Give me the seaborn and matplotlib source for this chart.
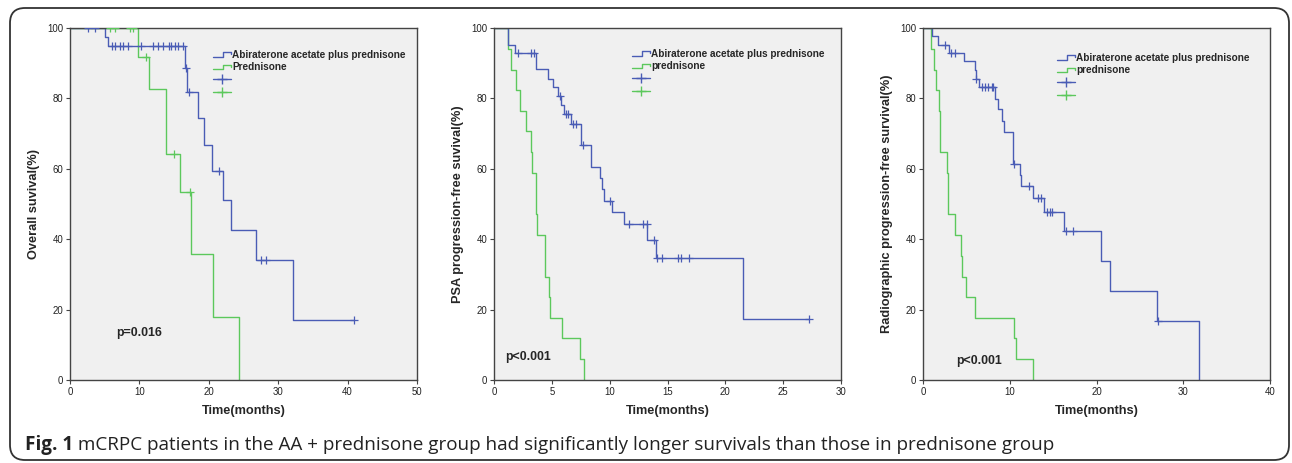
import numpy as np
import pandas as pd
import matplotlib
matplotlib.use("Agg")
import matplotlib.pyplot as plt
import seaborn as sns
from matplotlib.lines import Line2D
from matplotlib.legend_handler import HandlerBase
from matplotlib.patches import FancyBboxPatch

# ---- data (time in months, survival in %) ----
os_aa_t = [0, 5.0, 5.5, 16.6, 16.8, 18.4, 19.3, 20.4, 22.0, 23.2, 26.8, 32.2]
os_aa_s = [100, 97.4, 95.0, 88.6, 81.8, 74.4, 66.9, 59.5, 51.0, 42.5, 34.0, 17.0]
os_aa_c = [2.6, 3.6, 6.0, 6.5, 7.2, 7.7, 8.4, 10.3, 12.0, 12.7, 13.4, 14.2, 14.6,
           15.1, 15.6, 16.3, 16.7, 17.2, 21.4, 27.5, 28.3, 40.9]
os_p_t = [0, 9.85, 11.4, 13.8, 13.9, 15.85, 17.5, 20.65, 24.4]
os_p_s = [100, 91.7, 82.6, 73.3, 64.2, 53.5, 35.7, 17.8, 0]
os_p_c = [5.8, 6.5, 8.6, 9.1, 11.0, 15.0, 17.3]

psa_aa_t = [0, 1.2, 1.8, 3.66, 4.67, 5.1, 5.5, 5.8, 6.06, 6.7, 7.5, 7.55, 8.36, 8.42,
            9.2, 9.35, 9.5, 10.24, 11.2, 13.24, 14.0, 21.5]
psa_aa_s = [100, 95.3, 93.0, 88.3, 85.5, 83.1, 80.6, 78.1, 75.5, 72.7, 69.8, 66.8, 63.6,
            60.5, 57.3, 54.2, 50.9, 47.6, 44.2, 39.7, 34.7, 17.4]
psa_aa_c = [2.1, 3.2, 3.5, 5.7, 6.26, 6.4, 6.8, 7.07, 7.7, 10.0, 11.7, 12.9, 13.2,
            13.85, 14.05, 14.5, 15.9, 16.2, 16.9, 27.2]
psa_p_t = [0, 1.2, 1.45, 1.9, 2.28, 2.8, 3.23, 3.29, 3.66, 3.72, 4.38, 4.44, 4.73, 4.8,
           5.9, 7.47, 7.76]
psa_p_s = [100, 94.1, 88.2, 82.4, 76.5, 70.6, 64.7, 58.8, 47.1, 41.2, 35.3, 29.4, 23.5,
           17.6, 11.8, 5.9, 0]
psa_p_c = []

rp_aa_t = [0, 1.04, 1.73, 2.96, 4.76, 6.0, 6.08, 6.5, 8.33, 8.64, 9.1, 9.3, 10.33, 11.2,
           11.3, 12.67, 14.0, 16.3, 20.5, 21.5, 26.95, 31.8]
rp_aa_s = [100, 97.6, 95.3, 93.0, 90.6, 88.2, 85.5, 83.1, 79.9, 76.9, 73.7, 70.5, 61.3,
           58.2, 55.1, 51.6, 47.6, 42.3, 33.9, 25.4, 16.9, 0]
rp_aa_c = [2.57, 3.2, 3.65, 6.14, 6.8, 7.2, 7.5, 7.9, 8.1, 10.44, 12.2, 13.3, 13.6,
           14.3, 14.6, 14.9, 16.5, 17.3, 27.06]
rp_p_t = [0, 0.96, 1.23, 1.5, 1.88, 1.94, 2.0, 2.76, 2.84, 2.92, 3.72, 4.41, 4.49, 4.95,
          5.95, 10.5, 10.75, 12.67]
rp_p_s = [100, 94.1, 88.2, 82.4, 76.5, 70.6, 64.7, 58.8, 52.9, 47.1, 41.2, 35.3, 29.4,
          23.5, 17.6, 11.8, 5.9, 0]
rp_p_c = []

ylabels = ["Overall suvival(%)", "PSA progression-free suvival(%)",
           "Radiographic progression-free survival(%)"]
xmaxes = [50, 30, 40]
xsteps = [10, 5, 10]
pvals = ["p=0.016", "p<0.001", "p<0.001"]
pval_pos = [(6.7, 13.4), (1.0, 6.4), (3.84, 5.5)]
aa_label = "Abiraterone acetate plus prednisone"
p_labels = ["Prednisone", "prednisone", "prednisone"]
caption_bold = "Fig. 1"
caption_rest = " mCRPC patients in the AA + prednisone group had significantly longer survivals than those in prednisone group"

BLUE = "#4a5cb5"
GREEN = "#5cc85c"

sns.set_style("ticks")
plt.rcParams["font.family"] = ["Liberation Sans", "DejaVu Sans"]


class StepHandler(HandlerBase):
    def create_artists(self, legend, orig_handle, xdescent, ydescent, width, height,
                       fontsize, trans):
        x0 = -xdescent
        x1 = x0 + width
        y0 = -ydescent + height * 0.2
        y1 = -ydescent + height * 0.8
        xm = x0 + width * 0.55
        ln = Line2D([x0, xm, xm, x1, x1], [y0, y0, y1, y1, y1 - height * 0.3],
                    color=orig_handle.get_color(), lw=1.0, transform=trans)
        return [ln]


def km_frame(t, s, c):
    end = max([t[-1]] + list(c))
    x = list(t) + ([end] if end > t[-1] else [])
    y = list(s) + ([s[-1]] if end > t[-1] else [])
    return pd.DataFrame({"time": x, "surv": y})


def censor_frame(t, s, c):
    idx = np.searchsorted(np.array(t), np.array(c, dtype=float), side="right") - 1
    return pd.DataFrame({"time": c, "surv": np.array(s)[idx] if len(c) else []})


panels = [
    ((os_aa_t, os_aa_s, os_aa_c), (os_p_t, os_p_s, os_p_c)),
    ((psa_aa_t, psa_aa_s, psa_aa_c), (psa_p_t, psa_p_s, psa_p_c)),
    ((rp_aa_t, rp_aa_s, rp_aa_c), (rp_p_t, rp_p_s, rp_p_c)),
]
lefts = [70, 494, 923]
legend_x = [213, 632, 1057]
legend_top = [50, 49, 53]

W, H = 1292, 463
fig = plt.figure(figsize=(W / 100, H / 100), dpi=100)
fig.patch.set_facecolor("white")

for i, (aa, pr) in enumerate(panels):
    ax = fig.add_axes([lefts[i] / W, (H - 380) / H, 347 / W, 352 / H])
    ax.set_facecolor("#f0f0f0")
    for (t, s, c), col in [(pr, GREEN), (aa, BLUE)]:
        d = km_frame(t, s, c)
        sns.lineplot(data=d, x="time", y="surv", ax=ax, color=col, lw=1.0,
                     drawstyle="steps-post", estimator=None, sort=False)
        if len(c):
            cd = censor_frame(t, s, c)
            sns.scatterplot(data=cd, x="time", y="surv", ax=ax, marker="+", s=28,
                            color=col, linewidth=0.9, zorder=3)
    ax.set_xlim(0, xmaxes[i])
    ax.set_ylim(0, 100)
    ax.set_xticks(np.arange(0, xmaxes[i] + 1, xsteps[i]))
    ax.set_yticks(np.arange(0, 101, 20))
    for sp in ax.spines.values():
        sp.set_visible(True)
        sp.set_color("#444444")
        sp.set_linewidth(1.0)
    ax.tick_params(axis="both", direction="out", length=3, width=0.8, color="#444444",
                   labelsize=6.9, labelcolor="#222222", pad=2)
    ax.set_xlabel("Time(months)", fontsize=9.2, fontweight="bold", labelpad=6)
    ax.set_ylabel(ylabels[i], fontsize=9.2, fontweight="bold", labelpad=5)
    ax.text(pval_pos[i][0], pval_pos[i][1], pvals[i], fontsize=8.9,
            fontweight="bold", ha="left", va="center")

    handles = [Line2D([], [], color=BLUE), Line2D([], [], color=GREEN),
               Line2D([], [], color=BLUE, marker="+", markersize=7, lw=1.0),
               Line2D([], [], color=GREEN, marker="+", markersize=7, lw=1.0)]
    hmap = {handles[0]: StepHandler(), handles[1]: StepHandler()}
    leg = ax.legend(handles, [aa_label, p_labels[i], "", ""], handler_map=hmap,
                    loc="upper left",
                    bbox_to_anchor=((legend_x[i] - lefts[i]) / 347,
                                    (380 - legend_top[i]) / 352),
                    frameon=False, borderpad=0, borderaxespad=0, handlelength=1.75,
                    handletextpad=0.15, labelspacing=0.25,
                    prop={"size": 7.2, "weight": "bold"})

# rounded border around the figure panel
box = FancyBboxPatch((0.10, 0.03), 12.79, 4.52, boxstyle="round,pad=0,rounding_size=0.15",
                     transform=fig.dpi_scale_trans, fill=False, lw=1.3,
                     edgecolor="#333333", zorder=0)
fig.patches.append(box)

# caption
renderer = fig.canvas.get_renderer()
cap_font = ["Open Sans", "DejaVu Sans"]
t1 = fig.text(25 / W, (H - 445) / H, caption_bold, fontsize=13.6, fontweight="bold",
              family=cap_font, va="center", ha="left", color="#222222")
bb = t1.get_window_extent(renderer)
fig.text(bb.x1 / W, (H - 445) / H, caption_rest, fontsize=13.6, family=cap_font,
         va="center", ha="left", color="#222222")

fig.savefig("out.png", dpi=100)
